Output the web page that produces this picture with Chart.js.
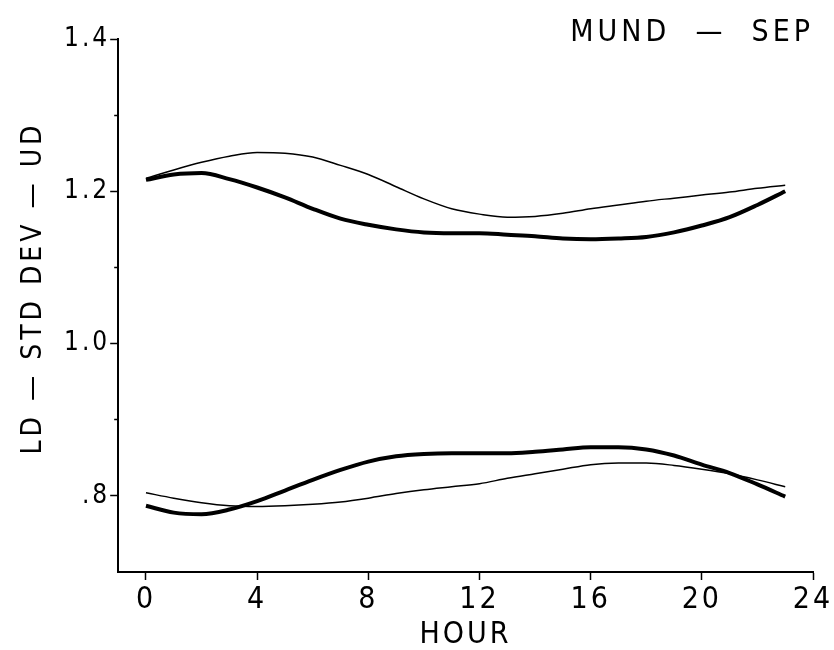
<!DOCTYPE html>
<html>
<head>
<meta charset="utf-8">
<script src="https://cdn.jsdelivr.net/npm/chart.js@4.4.1/dist/chart.umd.min.js"></script>
<style>
  body { margin: 0; background: #fff; }
  #wrap { width: 834px; height: 650px; }
</style>
</head>
<body>
<div id="wrap"><canvas id="chart"></canvas></div>
<script>
// hourly values
const hours = [0, 1, 2, 3, 4, 5, 6, 7, 8, 9, 10, 11, 12, 13, 14, 15, 16, 17, 18, 19, 20, 21, 22, 23];
const upperThin = [1.217, 1.228, 1.238, 1.246, 1.251, 1.250, 1.245, 1.234, 1.222, 1.206, 1.190, 1.177,
                   1.170, 1.166, 1.167, 1.171, 1.177, 1.182, 1.187, 1.191, 1.195, 1.199, 1.204, 1.208];
const upperThick = [1.215, 1.222, 1.224, 1.216, 1.205, 1.192, 1.177, 1.164, 1.156, 1.150, 1.146, 1.145,
                    1.145, 1.143, 1.141, 1.138, 1.137, 1.138, 1.140, 1.146, 1.155, 1.166, 1.182, 1.200];
const lowerThin = [0.804, 0.797, 0.791, 0.787, 0.786, 0.787, 0.789, 0.792, 0.797, 0.803, 0.808, 0.812,
                   0.816, 0.823, 0.829, 0.835, 0.841, 0.843, 0.843, 0.840, 0.835, 0.829, 0.821, 0.812];
const lowerThick = [0.787, 0.778, 0.776, 0.782, 0.793, 0.807, 0.821, 0.834, 0.845, 0.852, 0.855, 0.856,
                    0.856, 0.856, 0.858, 0.861, 0.864, 0.864, 0.861, 0.853, 0.841, 0.830, 0.815, 0.799];

const xTickValues = [0, 4, 8, 12, 16, 20, 24];
const yTickValues = [0.8, 0.9, 1.0, 1.1, 1.2, 1.3, 1.4];
const yTickLabels = ['.8', '', '1.0', '', '1.2', '', '1.4'];

const titleText = 'MUND  \u2014  SEP';
const yTitleText = 'LD \u2014 STD DEV \u2014 UD';
const xTitleText = 'HOUR';

const FONT = "'Liberation Sans Narrow', 'DejaVu Sans Condensed', sans-serif";
const SPACING = '3px';

Chart.defaults.font.family = FONT;
Chart.defaults.color = '#000';

function points(values) {
    return hours.map((h, i) => ({ x: h, y: values[i] }));
}

function line(values, width) {
    return {
        data: points(values),
        borderColor: '#000',
        borderWidth: width,
        pointRadius: 0,
        cubicInterpolationMode: 'monotone'
    };
}

// plotter style lettering: wide letter spacing on everything
const spacingPlugin = {
    id: 'spacing',
    beforeLayout(chart) { chart.ctx.letterSpacing = SPACING; },
    beforeDraw(chart) { chart.ctx.letterSpacing = SPACING; }
};

// top right title and the y axis caption
const captionPlugin = {
    id: 'captions',
    afterDraw(chart) {
        const ctx = chart.ctx;
        ctx.save();
        ctx.fillStyle = '#000';
        ctx.letterSpacing = '4px';
        ctx.font = '30px ' + FONT;
        ctx.textAlign = 'right';
        ctx.textBaseline = 'middle';
        ctx.fillText(titleText, 814, 33);
        ctx.font = '28px ' + FONT;
        ctx.translate(34, 288);
        ctx.rotate(-Math.PI / 2);
        ctx.textAlign = 'center';
        ctx.fillText(yTitleText, 0, 0);
        ctx.restore();
    }
};

new Chart(document.getElementById('chart'), {
    type: 'line',
    data: {
        datasets: [
            line(upperThin, 1.5),
            line(upperThick, 4),
            line(lowerThin, 1.5),
            line(lowerThick, 4)
        ]
    },
    options: {
        animation: false,
        responsive: true,
        maintainAspectRatio: false,
        layout: { padding: { left: 64, right: 21, top: 39, bottom: 0 } },
        plugins: {
            legend: { display: false },
            tooltip: { enabled: false }
        },
        scales: {
            x: {
                type: 'linear',
                min: -1,
                max: 24,
                afterBuildTicks: scale => { scale.ticks = xTickValues.map(v => ({ value: v })); },
                afterFit: scale => { scale.paddingRight = 0; },
                grid: { drawOnChartArea: false, drawTicks: true, tickLength: 8, tickColor: '#000', tickWidth: 1.5 },
                border: { display: true, color: '#000', width: 2 },
                ticks: { font: { size: 30 }, padding: 2, maxRotation: 0, autoSkip: false },
                title: {
                    display: true,
                    text: xTitleText,
                    font: { size: 30, lineHeight: 1.0 },
                    padding: { top: 0, bottom: 0 }
                }
            },
            y: {
                min: 0.7,
                max: 1.4,
                afterBuildTicks: scale => { scale.ticks = yTickValues.map(v => ({ value: v })); },
                grid: {
                    drawOnChartArea: false,
                    drawTicks: true,
                    tickLength: 8,
                    tickColor: '#000',
                    tickWidth: 1.5,
                    tickBorderDash: ctx => (yTickLabels[ctx.index] ? [] : [0, 4, 4, 4])
                },
                border: { display: true, color: '#000', width: 2 },
                ticks: {
                    font: { size: 26 },
                    padding: 0,
                    autoSkip: false,
                    callback: (value, index) => yTickLabels[index]
                }
            }
        }
    },
    plugins: [spacingPlugin, captionPlugin]
});
</script>
</body>
</html>
